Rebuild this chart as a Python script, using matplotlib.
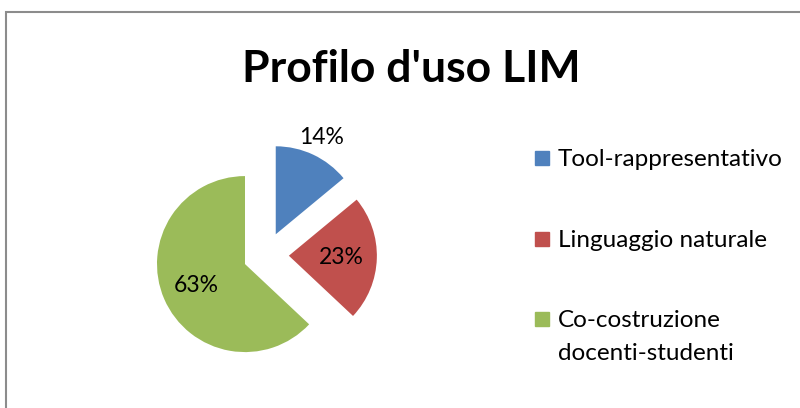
import numpy as np
import matplotlib.pyplot as plt
from matplotlib.patches import Rectangle

plt.rcParams['font.family'] = ['Lato', 'DejaVu Sans']

labels = ['Tool-rappresentativo', 'Linguaggio naturale', 'Co-costruzione\ndocenti-studenti']
values = [14, 23, 63]
colors = ['#4F81BD', '#C0504D', '#9BBB59']
pct_dist = [1.22, 0.6, 0.6]

W, H = 800, 408
fig = plt.figure(figsize=(8, 4.08), dpi=100)

# cornice del grafico (tagliata a destra e in basso)
fig.patches.append(Rectangle((6 / W, -0.05), 1.1, (H - 12) / H + 0.05, transform=fig.transFigure,
                             fill=False, edgecolor='#8c8c8c', linewidth=1.5))

fig.text(411 / W, 1 - 82 / H, "Profilo d'uso LIM", ha='center', va='baseline',
         fontsize=32, fontweight='bold')

# torta
size = 264
ax = fig.add_axes([(266 - size / 2) / W, (H - 255 - size / 2) / H, size / W, size / H])
wedges, texts, autotexts = ax.pie(values, colors=colors, explode=[0.26] * 3, startangle=90,
                                  counterclock=False, autopct='%1.0f%%', pctdistance=0.6,
                                  textprops={'fontsize': 16.5})
for w, t, d in zip(wedges, autotexts, pct_dist):
    ang = np.deg2rad((w.theta1 + w.theta2) / 2)
    cx, cy = w.center
    t.set_position((cx + d * w.r * np.cos(ang), cy + d * w.r * np.sin(ang)))
ax.set_xlim(-1.5, 1.5)
ax.set_ylim(-1.5, 1.5)
ax.set_aspect('equal')
ax.axis('off')

# legenda
base = [166, 247, 327]
for lab, col, yb in zip(labels, colors, base):
    fig.patches.append(Rectangle((535 / W, 1 - (yb - 1) / H), 14 / W, 14 / H,
                                 transform=fig.transFigure, color=col))
    for k, line in enumerate(lab.split('\n')):
        fig.text(558 / W, 1 - (yb + 33 * k) / H, line, ha='left', va='baseline', fontsize=17.5)

fig.savefig('out.png', dpi=100)
